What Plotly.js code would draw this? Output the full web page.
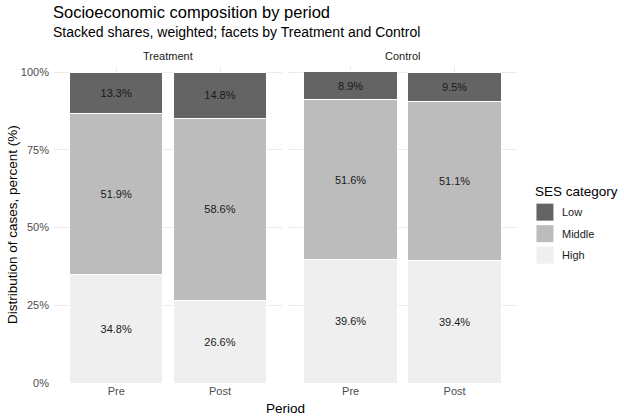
<!DOCTYPE html>
<html>
<head>
<meta charset="utf-8">
<script src="https://cdn.plot.ly/plotly-3.0.1.min.js"></script>
<style>html,body{margin:0;padding:0;background:#fff;}#chart{width:624px;height:417px;}</style>
</head>
<body>
<div id="chart"></div>
<script>
const periods = ["Pre", "Post"];
const groups = ["Treatment", "Control"];
const categories = ["High", "Middle", "Low"];
const legendOrder = ["Low", "Middle", "High"];
const yTickVals = [0, 25, 50, 75, 100];
const yTickText = ["0%", "25%", "50%", "75%", "100%"];
const treatmentHigh = [34.8, 26.6];
const treatmentMiddle = [51.9, 58.6];
const treatmentLow = [13.3, 14.8];
const controlHigh = [39.6, 39.4];
const controlMiddle = [51.6, 51.1];
const controlLow = [8.9, 9.5];
const colors = {High: "#efefef", Middle: "#bcbcbc", Low: "#646464"};

const dataByGroup = {
  Treatment: {High: treatmentHigh, Middle: treatmentMiddle, Low: treatmentLow},
  Control: {High: controlHigh, Middle: controlMiddle, Low: controlLow}
};

const font = "Liberation Sans, Arial, sans-serif";
const M = {l: 53.6, r: 106.5, t: 66, b: 34.3};
const W = 624, H = 417;
const PW = W - M.l - M.r, PH = H - M.t - M.b;
const px = x => (x - M.l) / PW;
const py = y => (H - M.b - y) / PH;

const traces = [];
groups.forEach((g, gi) => {
  categories.forEach(c => {
    const vals = dataByGroup[g][c];
    traces.push({
      type: "bar",
      x: periods,
      y: vals,
      name: c,
      showlegend: false,
      xaxis: gi === 0 ? "x" : "x2",
      yaxis: "y",
      width: 0.9,
      marker: {color: colors[c], line: {color: "#ffffff", width: 1}},
      text: vals.map(v => v.toFixed(1) + "%"),
      textposition: "inside",
      insidetextanchor: "middle",
      textangle: 0,
      textfont: {family: font, size: 11, color: "#1a1a1a"},
      hoverinfo: "skip"
    });
  });
});

const xbase = {
  type: "category",
  range: [-0.6, 1.6],
  showgrid: true,
  gridcolor: "#ebebeb",
  gridwidth: 1,
  zeroline: false,
  showline: false,
  ticks: "",
  color: "#4d4d4d",
  tickfont: {family: font, size: 11, color: "#4d4d4d"},
  fixedrange: true
};

const shapes = [];
const annotations = [
  {text: "Socioeconomic composition by period", xref: "paper", yref: "paper", x: 0, y: 1, xanchor: "left", yanchor: "middle", xshift: -3, yshift: 54, showarrow: false, font: {family: font, size: 16.5, color: "#000"}},
  {text: "Stacked shares, weighted; facets by Treatment and Control", xref: "paper", yref: "paper", x: 0, y: 1, xanchor: "left", yanchor: "middle", xshift: -3, yshift: 34, showarrow: false, font: {family: font, size: 14, color: "#000"}},
  {text: "Treatment", xref: "paper", yref: "paper", x: 0.2465, y: 1, xanchor: "center", yanchor: "middle", yshift: 10, showarrow: false, font: {family: font, size: 11, color: "#1a1a1a"}},
  {text: "Control", xref: "paper", yref: "paper", x: 0.753, y: 1, xanchor: "center", yanchor: "middle", yshift: 10, showarrow: false, font: {family: font, size: 11, color: "#1a1a1a"}},
  {text: "Period", xref: "paper", yref: "paper", x: 0.5, y: 0, xanchor: "center", yanchor: "middle", yshift: -25.5, showarrow: false, font: {family: font, size: 13.5, color: "#000"}},
  {text: "Distribution of cases, percent (%)", xref: "paper", yref: "paper", x: px(12), y: 0.5, xanchor: "center", yanchor: "middle", textangle: -90, showarrow: false, font: {family: font, size: 13.5, color: "#000"}},
  {text: "SES category", xref: "paper", yref: "paper", x: px(536), y: py(191), xanchor: "left", yanchor: "middle", xshift: -2, showarrow: false, font: {family: font, size: 13.5, color: "#000"}}
];
legendOrder.forEach((c, i) => {
  const top = 203.5 + i * 21.5;
  shapes.push({type: "rect", xref: "paper", yref: "paper", x0: px(537), x1: px(554), y0: py(top), y1: py(top + 17), fillcolor: colors[c], line: {width: 0}});
  annotations.push({text: c, xref: "paper", yref: "paper", x: px(563), y: py(top + 8.5), xanchor: "left", yanchor: "middle", xshift: -2, showarrow: false, font: {family: font, size: 11, color: "#1a1a1a"}});
});

const layout = {
  width: W,
  height: H,
  margin: M,
  paper_bgcolor: "#ffffff",
  plot_bgcolor: "#ffffff",
  barmode: "stack",
  bargap: 0.1,
  font: {family: font, color: "#4d4d4d"},
  showlegend: false,
  xaxis: Object.assign({}, xbase, {domain: [0, 0.493], anchor: "y"}),
  xaxis2: Object.assign({}, xbase, {domain: [0.506, 1], anchor: "y"}),
  yaxis: {
    range: [0, 102],
    tickmode: "array",
    tickvals: yTickVals,
    ticktext: yTickText,
    showgrid: true,
    gridcolor: "#ebebeb",
    gridwidth: 1,
    zeroline: false,
    showline: false,
    ticks: "",
    color: "#4d4d4d",
    ticklabelstandoff: 4,
    tickfont: {family: font, size: 11, color: "#4d4d4d"},
    fixedrange: true
  },
  shapes: shapes,
  annotations: annotations
};

Plotly.newPlot("chart", traces, layout, {displayModeBar: false, staticPlot: true});
</script>
</body>
</html>
